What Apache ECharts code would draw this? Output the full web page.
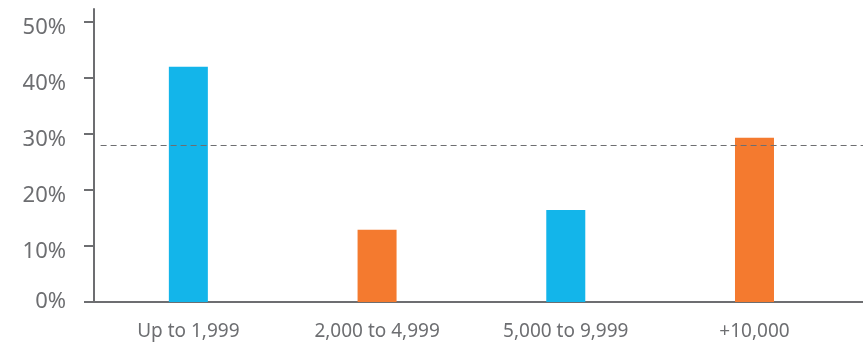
<!DOCTYPE html>
<html><head><meta charset="utf-8">
<script src="https://cdn.jsdelivr.net/npm/echarts@6/dist/echarts.min.js"></script>
<style>html,body{margin:0;padding:0;background:#fff}#c{width:863px;height:347px}</style>
</head><body><div id="c"></div>
<script>
var categories = ['Up to 1,999', '2,000 to 4,999', '5,000 to 9,999', '+10,000'];
var values = [42.0, 12.9, 16.4, 29.3];
var barColors = ['#13B5EA', '#F47A2F', '#13B5EA', '#F47A2F'];
var average = 28.0;
var yTicks = [0, 10, 20, 30, 40, 50];

var chart = echarts.init(document.getElementById('c'));
var font = '"Noto Sans",sans-serif';
var labelStyle = {color: '#6d6e71', fontSize: 22, fontFamily: font};
chart.setOption({
  animation: false,
  grid: {left: 94, right: 0, top: 9, bottom: 45},
  xAxis: {
    type: 'value', min: -0.5, max: 3.575,
    axisLine: {show: true, onZero: false, lineStyle: {color: '#6d6e71', width: 2}},
    axisTick: {show: false},
    splitLine: {show: false},
    axisLabel: {
      customValues: categories.map(function (c, i) { return i; }),
      formatter: function (v) { return categories[Math.round(v)]; },
      color: '#6d6e71', fontSize: 19, fontFamily: font, margin: 20
    }
  },
  yAxis: {
    type: 'value', min: 0, max: 52.3,
    axisLine: {show: true, onZero: false, lineStyle: {color: '#6d6e71', width: 2}},
    axisTick: {show: true, customValues: yTicks, length: 10, lineStyle: {color: '#6d6e71', width: 2}},
    splitLine: {show: false},
    axisLabel: {
      customValues: yTicks,
      formatter: function (v) { return v === 0 ? '{z|' + v + '%}' : '{d|' + v + '%}'; },
      color: '#6d6e71', fontSize: 22, fontFamily: font, margin: 28,
      rich: {
        z: Object.assign({}, labelStyle),
        d: Object.assign({padding: [12, 0, 0, 0]}, labelStyle)
      }
    }
  },
  series: [{
    type: 'bar',
    barWidth: 39,
    data: values.map(function (v, i) { return {value: [i, v], itemStyle: {color: barColors[i]}}; }),
    markLine: {
      silent: true, symbol: 'none', label: {show: false},
      lineStyle: {type: [6, 4], color: '#6d6e71', width: 1},
      data: [[{coord: [-0.465, average]}, {coord: [3.575, average]}]]
    }
  }]
});
</script></body></html>
